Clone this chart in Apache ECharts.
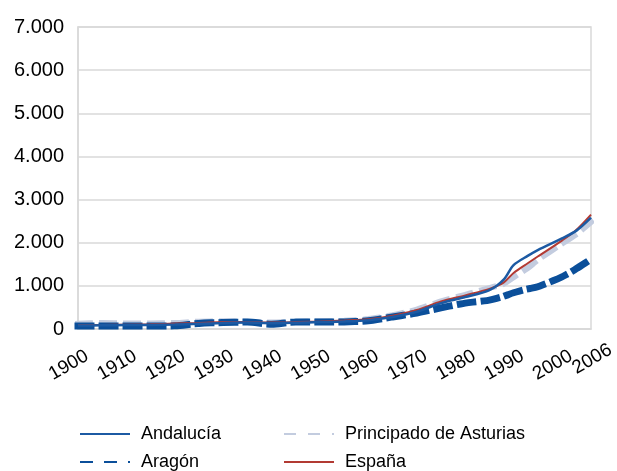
<!DOCTYPE html>
<html>
<head>
<meta charset="utf-8">
<script src="https://cdn.jsdelivr.net/npm/echarts@6/dist/echarts.min.js"></script>
<style>
  html, body { margin: 0; padding: 0; background: #fff; }
  #chart { width: 617px; height: 471px; }
</style>
</head>
<body>
<div id="chart"></div>
<script>
// años y valores
var years = [1900, 1905, 1910, 1915, 1920, 1925, 1930, 1935, 1940, 1945, 1950, 1955, 1960, 1965, 1970, 1975, 1980, 1985, 1988, 1990, 1993, 1995, 2000, 2003, 2006]
var andalucia = [80, 85, 90, 95, 105, 120, 140, 150, 135, 145, 160, 175, 205, 280, 400, 600, 740, 900, 1150, 1480, 1700, 1830, 2100, 2280, 2580]
var aragon = [70, 70, 70, 70, 75, 130, 150, 160, 110, 160, 160, 165, 190, 280, 370, 490, 600, 670, 760, 840, 930, 980, 1210, 1400, 1620]
var asturias = [120, 140, 130, 130, 140, 170, 180, 170, 150, 165, 180, 190, 230, 320, 450, 640, 790, 950, 1050, 1200, 1420, 1600, 1980, 2200, 2480]
var espana = [90, 95, 100, 110, 125, 140, 160, 165, 150, 160, 175, 195, 225, 310, 440, 640, 780, 930, 1080, 1300, 1530, 1680, 2050, 2300, 2650]

var font = 'Liberation Sans, Arial, sans-serif'

function pairs(arr) {
  return years.map(function(y, i) {
    return [y, arr[i]]
  })
}

function legendItem(name, left, top) {
  return {
    left: left,
    top: top,
    padding: 0,
    itemWidth: 50,
    itemHeight: 14,
    data: [name],
    itemStyle: { opacity: 0 },
    textStyle: { fontFamily: font, fontSize: 18, color: '#000', padding: [0, 0, 0, 6] },
    lineStyle: { cap: 'butt' }
  }
}

var chart = echarts.init(document.getElementById('chart'))

var xLabel = {
  rotate: 30,
  margin: 10,
  verticalAlign: 'top',
  lineHeight: 36,
  hideOverlap: false,
  fontFamily: font,
  fontSize: 19,
  color: '#000'
}

// ejes extra sin línea: sólo llevan la primera / la última etiqueta
function edgeAxis(label, extra) {
  return {
    type: 'value',
    position: 'bottom',
    min: 1900,
    max: 2006,
    interval: 106,
    axisLine: { show: false },
    axisTick: { show: false },
    splitLine: { show: false },
    axisLabel: Object.assign({}, xLabel, extra, {
      formatter: function(v) { return v === label ? (extra.rich ? '{a|' + v + '}' : String(v)) : '' }
    })
  }
}

chart.setOption({
  backgroundColor: '#fff',
  animation: false,
  legend: [
    legendItem('Andalucía', 79, 425),
    legendItem('Aragón', 79, 453),
    legendItem('Principado de Asturias', 283, 425),
    legendItem('España', 283, 453)
  ],
  grid: {
    left: 78,
    right: 26,
    top: 27,
    bottom: 142,
    show: true,
    borderColor: '#D9D9D9',
    borderWidth: 1.5,
    outerBoundsMode: 'none'
  },
  xAxis: [
    {
      type: 'value',
      min: 1900,
      max: 2006,
      interval: 10,
      axisLine: { show: true, lineStyle: { color: '#D9D9D9', width: 1.5 } },
      axisTick: { show: false },
      splitLine: { show: false },
      axisLabel: Object.assign({}, xLabel, {
        showMaxLabel: false,
        showMinLabel: false,
        formatter: function(v) { return v === 2006 || v === 1900 ? '' : String(v) }
      })
    },
    edgeAxis(1900, { showMinLabel: true, showMaxLabel: false }),
    edgeAxis(2006, {
      showMinLabel: false,
      showMaxLabel: true,
      align: 'center',
      rich: { a: { fontFamily: font, fontSize: 19, color: '#000', lineHeight: 36, padding: [0, 18, 0, 0] } }
    })
  ],
  yAxis: {
    type: 'value',
    min: 0,
    max: 7000,
    interval: 1000,
    axisLine: { show: true, lineStyle: { color: '#D9D9D9', width: 1.5 } },
    axisTick: { show: false },
    splitLine: { lineStyle: { color: '#D9D9D9', width: 1.5 } },
    axisLabel: {
      margin: 14,
      fontFamily: font,
      fontSize: 20,
      color: '#000',
      formatter: function(v) {
        return String(v).replace(/\B(?=(\d{3})+(?!\d))/g, '.')
      }
    }
  },
  series: [
    {
      name: 'Principado de Asturias',
      type: 'line',
      data: pairs(asturias),
      smooth: 0.3,
      symbol: 'none',
      itemStyle: { color: '#C3CCDF' },
      lineStyle: { color: '#C3CCDF', width: 6, type: [12, 12], cap: 'square' },
      z: 1
    },
    {
      name: 'Aragón',
      type: 'line',
      data: pairs(aragon),
      smooth: 0.3,
      symbol: 'none',
      itemStyle: { color: '#0B4F9A' },
      lineStyle: { color: '#0B4F9A', width: 7, type: [13, 11], cap: 'square' },
      z: 2
    },
    {
      name: 'España',
      type: 'line',
      data: pairs(espana),
      smooth: 0.3,
      symbol: 'none',
      itemStyle: { color: '#B23A33' },
      lineStyle: { color: '#B23A33', width: 2 },
      z: 3
    },
    {
      name: 'Andalucía',
      type: 'line',
      data: pairs(andalucia),
      smooth: 0.3,
      symbol: 'none',
      itemStyle: { color: '#1C5AA3' },
      lineStyle: { color: '#1C5AA3', width: 2.5 },
      z: 4
    }
  ]
})
</script>
</body>
</html>
